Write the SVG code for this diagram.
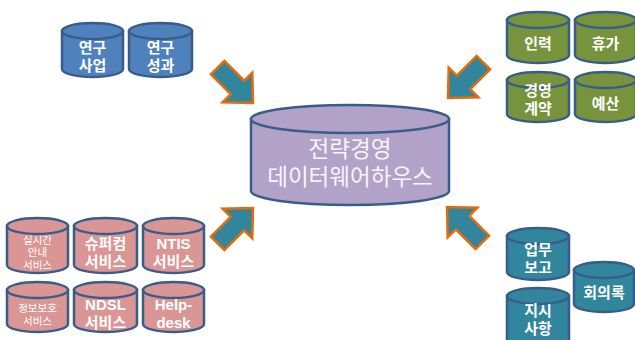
<svg xmlns="http://www.w3.org/2000/svg" width="635" height="340" viewBox="0 0 635 340">
<defs>
<style>
.cyl path, .cyl ellipse { stroke: #385d8a; stroke-width: 2.5; }
.blue path, .blue ellipse { fill: #4f81bd; }
.green path, .green ellipse { fill: #77933c; }
.pink path, .pink ellipse { fill: #d99694; }
.teal path, .teal ellipse { fill: #31859c; }
.main path, .main ellipse { fill: #b3a2c7; stroke-width: 2.5; }
.t { font-family: "Liberation Sans", "Noto Sans CJK KR", sans-serif; font-weight: bold; fill: #ffffff; text-anchor: middle; dominant-baseline: central; font-size: 15px; }
.s { font-size: 10.5px; font-weight: normal; }
.m { font-size: 22.5px; font-weight: normal; fill: #f8f4fb; }
.arrow { fill: #31859c; stroke: #e46c0a; stroke-width: 2.5; stroke-linejoin: miter; }
</style>
<polygon id="arr" points="-50,-9.5 -22,-9.5 -22,-21 0,0 -22,21 -22,9.5 -50,9.5"/>
</defs>
<rect width="635" height="340" fill="#ffffff"/>

<g id="main" class="cyl main">
<path d="M251,119 V191 A99,14 0 0 0 449,191 V119 Z"/>
<ellipse cx="350" cy="119" rx="99" ry="14"/>
<text class="t m" x="350" y="149">전략경영</text>
<text class="t m" x="350" y="177">데이터웨어하우스</text>
</g>

<g id="n-yeongu-saeop" class="cyl blue">
<path d="M62,31 V69 A30.5,8 0 0 0 123,69 V31 Z"/>
<ellipse cx="92.5" cy="31" rx="30.5" ry="8"/>
<text class="t" x="92.5" y="47">연구</text>
<text class="t" x="92.5" y="65">사업</text>
</g>
<g id="n-yeongu-seonggwa" class="cyl blue">
<path d="M129,31 V69 A31.5,8 0 0 0 192,69 V31 Z"/>
<ellipse cx="160.5" cy="31" rx="31.5" ry="8"/>
<text class="t" x="160.5" y="47">연구</text>
<text class="t" x="160.5" y="65">성과</text>
</g>

<g id="n-inryeok" class="cyl green">
<path d="M507,20 V55 A31,8 0 0 0 569,55 V20 Z"/>
<ellipse cx="538" cy="20" rx="31" ry="8"/>
<text class="t" x="538" y="43">인력</text>
</g>
<g id="n-hyuga" class="cyl green">
<path d="M575,20 V55 A30.5,8 0 0 0 636,55 V20 Z"/>
<ellipse cx="605.5" cy="20" rx="30.5" ry="8"/>
<text class="t" x="605.5" y="43">휴가</text>
</g>
<g id="n-gyeongyeong" class="cyl green">
<path d="M507,80 V114 A31,8 0 0 0 569,114 V80 Z"/>
<ellipse cx="538" cy="80" rx="31" ry="8"/>
<text class="t" x="538" y="90">경영</text>
<text class="t" x="538" y="108">계약</text>
</g>
<g id="n-yesan" class="cyl green">
<path d="M575,80 V114 A30.5,8 0 0 0 636,114 V80 Z"/>
<ellipse cx="605.5" cy="80" rx="30.5" ry="8"/>
<text class="t" x="605.5" y="103">예산</text>
</g>

<g id="n-silsigan" class="cyl pink">
<path d="M7,226 V265 A30.5,8 0 0 0 68,265 V226 Z"/>
<ellipse cx="37.5" cy="226" rx="30.5" ry="8"/>
<text class="t s" x="37.5" y="239.5">실시간</text>
<text class="t s" x="37.5" y="252">안내</text>
<text class="t s" x="37.5" y="264.5">서비스</text>
</g>
<g id="n-supercom" class="cyl pink">
<path d="M74,226 V265 A31.5,8 0 0 0 137,265 V226 Z"/>
<ellipse cx="105.5" cy="226" rx="31.5" ry="8"/>
<text class="t" x="105.5" y="243">슈퍼컴</text>
<text class="t" x="105.5" y="261">서비스</text>
</g>
<g id="n-ntis" class="cyl pink">
<path d="M143,226 V265 A30.5,8 0 0 0 204,265 V226 Z"/>
<ellipse cx="173.5" cy="226" rx="30.5" ry="8"/>
<text class="t" x="173.5" y="243">NTIS</text>
<text class="t" x="173.5" y="261">서비스</text>
</g>
<g id="n-jeongbo" class="cyl pink">
<path d="M7,290 V324 A30.5,8 0 0 0 68,324 V290 Z"/>
<ellipse cx="37.5" cy="290" rx="30.5" ry="8"/>
<text class="t s" x="37.5" y="307.5">정보보호</text>
<text class="t s" x="37.5" y="320.5">서비스</text>
</g>
<g id="n-ndsl" class="cyl pink">
<path d="M74,290 V324 A31.5,8 0 0 0 137,324 V290 Z"/>
<ellipse cx="105.5" cy="290" rx="31.5" ry="8"/>
<text class="t" x="105.5" y="304">NDSL</text>
<text class="t" x="105.5" y="322">서비스</text>
</g>
<g id="n-helpdesk" class="cyl pink">
<path d="M143,290 V324 A30.5,8 0 0 0 204,324 V290 Z"/>
<ellipse cx="173.5" cy="290" rx="30.5" ry="8"/>
<text class="t" x="173.5" y="304">Help-</text>
<text class="t" x="173.5" y="322">desk</text>
</g>

<g id="n-eopmu" class="cyl teal">
<path d="M507,236 V272 A31,8 0 0 0 569,272 V236 Z"/>
<ellipse cx="538" cy="236" rx="31" ry="8"/>
<text class="t" x="538" y="249">업무</text>
<text class="t" x="538" y="267">보고</text>
</g>
<g id="n-jisi" class="cyl teal">
<path d="M507,296 V340 A31,8 0 0 0 569,340 V296 Z"/>
<ellipse cx="538" cy="296" rx="31" ry="8"/>
<text class="t" x="538" y="310">지시</text>
<text class="t" x="538" y="328">사항</text>
</g>
<g id="n-hoeuirok" class="cyl teal">
<path d="M574,270 V304 A30,8 0 0 0 634,304 V270 Z"/>
<ellipse cx="604" cy="270" rx="30" ry="8"/>
<text class="t" x="604" y="292">회의록</text>
</g>

<g id="connectors">
<use href="#arr" class="arrow" transform="translate(253,103) rotate(45)"/>
<use href="#arr" class="arrow" transform="translate(448,98) rotate(135)"/>
<use href="#arr" class="arrow" transform="translate(253,208) rotate(-45)"/>
<use href="#arr" class="arrow" transform="translate(447,207) rotate(-135)"/>
</g>
</svg>
